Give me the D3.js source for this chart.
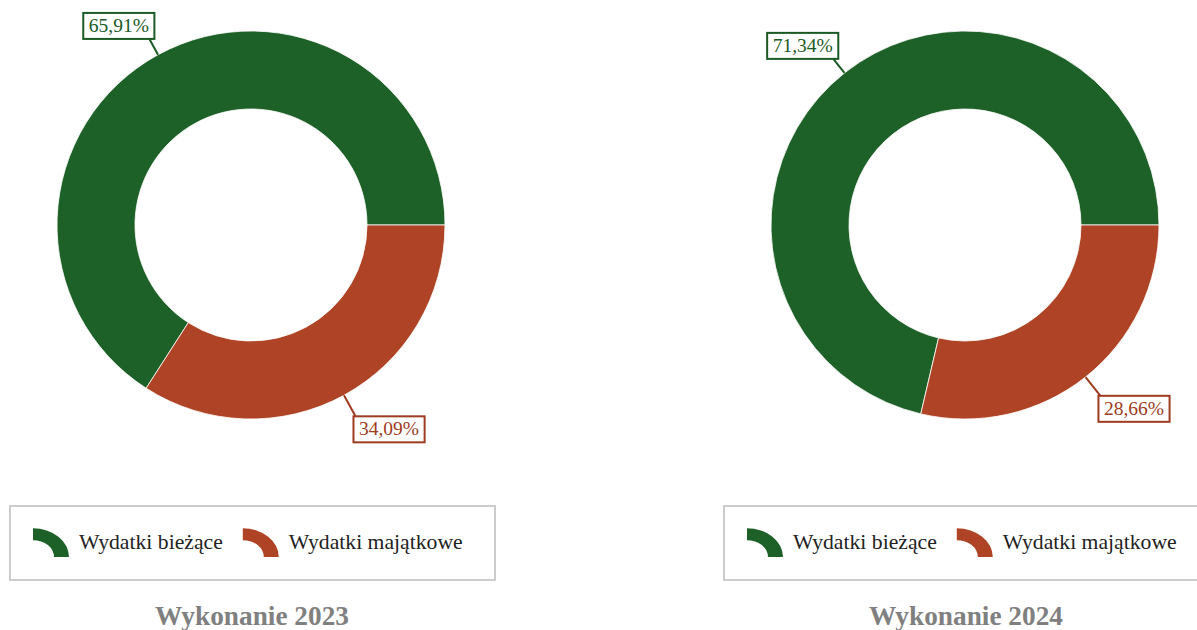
<!DOCTYPE html>
<html>
<head>
<meta charset="utf-8">
<script src="https://cdn.jsdelivr.net/npm/d3@7"></script>
<style>
  body { margin: 0; background: #fff; }
  svg { display: block; font-family: "Liberation Serif", "Times New Roman", serif; }
</style>
</head>
<body>
<svg id="chart" width="1197" height="630"></svg>
<script>
// data
var categories = ["Wydatki bieżące", "Wydatki majątkowe"];
var colors = ["#1e6128", "#ae4425"];
var labelColors = ["#1b5a25", "#9e3b21"];
var titles = ["Wykonanie 2023", "Wykonanie 2024"];
var values2023 = [65.91, 34.09];
var values2024 = [71.34, 28.66];
var seriesValues = [values2023, values2024];

var svg = d3.select("#chart");
var outerR = 194, innerR = 116;
var panelX = [0, 714];

var fmt = function(v) { return v.toFixed(2).replace(".", ",") + "%"; };

// pie goes counterclockwise from 3 o'clock
var pie = d3.pie().sort(null).value(function(d) { return d; })
  .startAngle(Math.PI / 2 + 2 * Math.PI)
  .endAngle(Math.PI / 2);

var arc = d3.arc().innerRadius(innerR).outerRadius(outerR);

seriesValues.forEach(function(vals, p) {
  var g = svg.append("g").attr("transform", "translate(" + panelX[p] + ",0)");
  var pieG = g.append("g").attr("transform", "translate(251,225)");
  var arcs = pie(vals);

  pieG.selectAll("path.slice")
    .data(arcs)
    .enter().append("path")
      .attr("class", "slice")
      .attr("d", arc)
      .attr("fill", function(d, i) { return colors[i]; })
      .attr("stroke", "#ffffff")
      .attr("stroke-width", 0.8)
      .attr("stroke-linejoin", "round");

  // data labels
  arcs.forEach(function(d, i) {
    var mid = (d.startAngle + d.endAngle) / 2;
    var dx = Math.sin(mid), dy = -Math.cos(mid);
    var ox = dx * outerR, oy = dy * outerR;
    var L = dy < 0 ? 18 : 24;
    var ex = ox + dx * L, ey = oy + dy * L;

    var lbl = pieG.append("g");
    var txt = lbl.append("text")
      .attr("font-size", 19.5)
      .attr("fill", labelColors[i])
      .text(fmt(d.data));
    var tw = txt.node().getComputedTextLength();
    var bw = tw + 11, bh = 26;
    var bx = dx < 0 ? ex + 5 - bw : ex - 2;
    var by = dy < 0 ? ey - bh : ey;

    pieG.insert("line", "g")
      .attr("x1", ox).attr("y1", oy)
      .attr("x2", ex).attr("y2", ey)
      .attr("stroke", labelColors[i])
      .attr("stroke-width", 2);
    lbl.insert("rect", "text")
      .attr("x", bx).attr("y", by)
      .attr("width", bw).attr("height", bh)
      .attr("fill", "#fff")
      .attr("stroke", labelColors[i])
      .attr("stroke-width", 2);
    txt.attr("x", bx + bw / 2).attr("y", by + 19).attr("text-anchor", "middle");
  });

  // legend
  var leg = g.append("g");
  leg.append("rect")
    .attr("x", 10).attr("y", 506)
    .attr("width", 485).attr("height", 74)
    .attr("fill", "#fff")
    .attr("stroke", "#cccccc")
    .attr("stroke-width", 2);

  var symArc = d3.arc().innerRadius(21).outerRadius(36).startAngle(0).endAngle(Math.PI / 2);
  var lx = 33;
  categories.forEach(function(c, i) {
    leg.append("path")
      .attr("d", symArc())
      .attr("fill", colors[i])
      .attr("transform", "translate(" + lx + ",557) scale(1,0.8)");
    var t = leg.append("text")
      .attr("x", lx + 46).attr("y", 549)
      .attr("font-size", 21.7)
      .attr("fill", "#222")
      .text(c);
    lx = lx + 46 + t.node().getComputedTextLength() + 20;
  });

  // title
  g.append("text")
    .attr("x", 252).attr("y", 625)
    .attr("text-anchor", "middle")
    .attr("font-size", 27.3)
    .attr("font-weight", "bold")
    .attr("fill", "#808080")
    .text(titles[p]);
});
</script>
</body>
</html>
